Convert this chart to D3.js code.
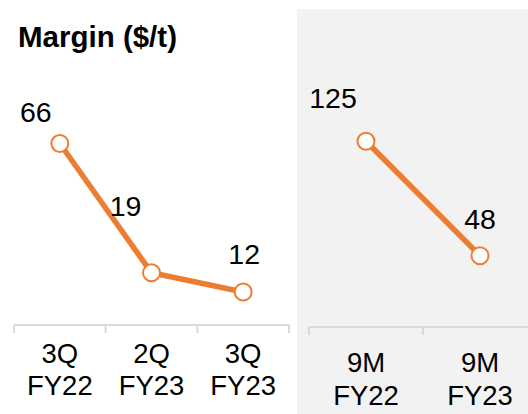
<!DOCTYPE html>
<html><head><meta charset="utf-8">
<script src="https://cdn.jsdelivr.net/npm/d3@7"></script>
<style>html,body{margin:0;padding:0;background:#fff;}svg{display:block;font-family:"Liberation Sans",Arial,sans-serif;}</style>
</head><body>
<svg id="c" width="528" height="414"></svg>
<script>
// Data
const quarterCats = [["3Q","FY22"],["2Q","FY23"],["3Q","FY23"]];
const quarterVals = [66, 19, 12];
const ytdCats = [["9M","FY22"],["9M","FY23"]];
const ytdVals = [125, 48];
const title = "Margin ($/t)";

// Label offsets (layout)
const qLabelOff = [[-24,-22],[-26,-57],[1,-28]];
const yLabelOff = [[-33,-33],[0,-27]];

const orange = "#ED7D31", axisCol = "#d9d9d9";
const svg = d3.select("#c");

svg.append("rect").attr("x",297).attr("y",9).attr("width",231).attr("height",405).attr("fill","#f2f2f2");

svg.append("text").attr("x",18).attr("y",47).attr("font-size",29.5).attr("font-weight","bold").attr("fill","#000").text(title);

function panel(cats, vals, offs, x0, x1, yZero, pxPerUnit, catY1, catY2) {
  const x = d3.scaleBand().domain(d3.range(cats.length)).range([x0, x1]);
  const y = d3.scaleLinear().domain([0, 100]).range([yZero, yZero - 100*pxPerUnit]);
  const g = svg.append("g");
  const ax = g.append("g").attr("transform",`translate(0,${yZero})`)
    .call(d3.axisBottom(x).tickSize(0).tickFormat(""));
  ax.select(".domain").remove();
  ax.selectAll(".tick").remove();
  ax.append("line").attr("x1",x0).attr("x2",x1).attr("y1",0).attr("y2",0).attr("stroke",axisCol).attr("stroke-width",2);
  const edges = d3.range(cats.length+1).map(i => x0 + i*x.bandwidth());
  ax.selectAll(".tk").data(edges).join("line").attr("class","tk")
    .attr("x1",d=>d).attr("x2",d=>d).attr("y1",0).attr("y2",8).attr("stroke",axisCol).attr("stroke-width",2);
  const cx = i => x(i) + x.bandwidth()/2;
  const lab = g.selectAll(".cat").data(cats).join("text").attr("class","cat")
    .attr("text-anchor","middle").attr("font-size",27.5).attr("fill","#000");
  lab.each(function(d,i){
    const t = d3.select(this);
    t.append("tspan").attr("x",cx(i)).attr("y",catY1).text(d[0]);
    t.append("tspan").attr("x",cx(i)).attr("y",catY2).text(d[1]);
  });
  const line = d3.line().x((d,i)=>cx(i)).y(d=>y(d));
  g.append("path").datum(vals).attr("d",line).attr("fill","none").attr("stroke",orange).attr("stroke-width",5.5);
  g.selectAll(".pt").data(vals).join("circle").attr("class","pt")
    .attr("cx",(d,i)=>cx(i)).attr("cy",d=>y(d)).attr("r",8.5)
    .attr("fill","#fff").attr("stroke",orange).attr("stroke-width",2);
  g.selectAll(".val").data(vals).join("text").attr("class","val")
    .attr("x",(d,i)=>cx(i)+offs[i][0]).attr("y",(d,i)=>y(d)+offs[i][1])
    .attr("text-anchor","middle").attr("font-size",28.5).attr("fill","#000").text(d=>d);
}

panel(quarterCats, quarterVals, qLabelOff, 14, 289, 325, 2.75, 363, 395);
panel(ytdCats, ytdVals, yLabelOff, 309, 537, 327, 1.486, 372, 405);
</script>
</body></html>
